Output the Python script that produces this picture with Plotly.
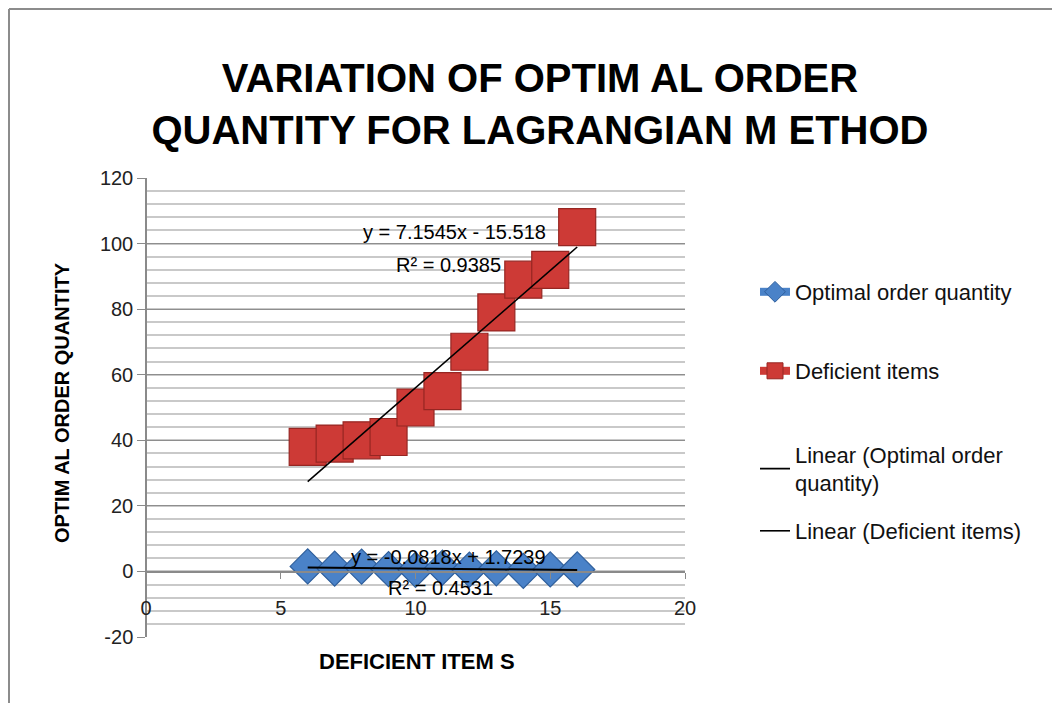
import numpy as np
import plotly.graph_objects as go

# ---- data ----
x_items = [6, 7, 8, 9, 10, 11, 12, 13, 14, 15, 16]
deficient_items = [38, 39, 40, 41, 50, 55, 67, 79, 89, 92, 105]
optimal_order_qty = [1.53, 0.85, 1.47, 0.69, 0.51, 1.14, 0.54, 0.96, 0.18, 0.60, 0.60]

y_ticks = [-20, 0, 20, 40, 60, 80, 100, 120]
y_tick_labels = ["-20", "0", "20", "40", "60", "80", "100", "120"]
x_ticks = [0, 5, 10, 15, 20]

title_text = "VARIATION OF OPTIM AL ORDER<br>QUANTITY FOR LAGRANGIAN M ETHOD"
x_title = "DEFICIENT ITEM S"
y_title = "OPTIM AL ORDER QUANTITY"

BLUE = "#4A82C8"
BLUE_EDGE = "#2F5F9C"
RED = "#CD3A36"
RED_EDGE = "#962622"
ARIAL = "Arial, Liberation Sans, sans-serif"

# page offset (body margin) and plot-area geometry in page pixels
OFF = 8
PAGE_W, PAGE_H = 1060, 703
W, H = PAGE_W - OFF, PAGE_H - OFF
PL, PR, PT, PB = 146, 685, 178, 637
pw, ph = PR - PL, PB - PT


def px_x(p):
    return (p - PL) / pw


def px_y(p):
    return (PB - p) / ph


# linear fits
xa = np.array(x_items, dtype=float)
fit_red = np.polyfit(xa, np.array(deficient_items, float), 1)
fit_blue = np.polyfit(xa, np.array(optimal_order_qty, float), 1)
xl = np.array([xa.min(), xa.max()])

fig = go.Figure()

fig.add_trace(go.Scatter(
    x=x_items, y=optimal_order_qty, mode="markers", showlegend=False,
    marker=dict(symbol="diamond", size=27, color=BLUE,
                line=dict(color=BLUE_EDGE, width=1.2))))
fig.add_trace(go.Scatter(
    x=x_items, y=deficient_items, mode="markers", showlegend=False,
    marker=dict(symbol="square", size=37, color=RED,
                line=dict(color=RED_EDGE, width=1.2))))
fig.add_trace(go.Scatter(
    x=xl, y=np.polyval(fit_blue, xl), mode="lines", showlegend=False,
    line=dict(color="black", width=2)))
fig.add_trace(go.Scatter(
    x=xl, y=np.polyval(fit_red, xl), mode="lines", showlegend=False,
    line=dict(color="black", width=1.6)))

# legend entries (separate legends to reproduce the spacing)
fig.add_trace(go.Scatter(
    x=[None], y=[None], mode="lines+markers", name="Optimal order quantity",
    legend="legend",
    line=dict(color=BLUE, width=8),
    marker=dict(symbol="diamond", size=16, color=BLUE, line=dict(color=BLUE_EDGE, width=1))))
fig.add_trace(go.Scatter(
    x=[None], y=[None], mode="lines+markers", name="Deficient items",
    legend="legend2",
    line=dict(color=RED, width=8),
    marker=dict(symbol="square", size=16, color=RED, line=dict(color=RED_EDGE, width=1))))
fig.add_trace(go.Scatter(
    x=[None], y=[None], mode="lines", name="Linear (Optimal order<br>quantity)",
    legend="legend3", line=dict(color="black", width=1.6)))
fig.add_trace(go.Scatter(
    x=[None], y=[None], mode="lines", name="Linear (Deficient items)",
    legend="legend4", line=dict(color="black", width=1.6)))

leg_font = dict(family=ARIAL, size=22, color="#111")
leg_x = px_x(755)


def leg(py):
    return dict(x=leg_x, y=px_y(py), xanchor="left", yanchor="middle",
                font=leg_font, bgcolor="rgba(0,0,0,0)", borderwidth=0)


fig.update_layout(
    width=W, height=H, autosize=False,
    margin=dict(l=PL - OFF, r=PAGE_W - PR, t=PT - OFF, b=PAGE_H - PB),
    paper_bgcolor="white", plot_bgcolor="white",
    title=dict(text=title_text, x=(540 - OFF) / W, xref="container", xanchor="center",
               y=1 - (92 - OFF) / H, yref="container", yanchor="middle",
               font=dict(family=ARIAL, size=40, color="black", weight="bold")),
    legend=leg(292), legend2=leg(371), legend3=leg(469), legend4=leg(531),
    xaxis=dict(range=[0, 20], tickvals=x_ticks, showgrid=False, zeroline=False,
               anchor="free", position=px_y(572), automargin=False,
               showline=True, linecolor="#8a8a8a", linewidth=1.5,
               ticks="outside", ticklen=6, tickcolor="#8a8a8a",
               ticklabelstandoff=12,
               tickfont=dict(family=ARIAL, size=20, color="#222")),
    yaxis=dict(range=[-20, 120], tickvals=y_ticks, ticktext=y_tick_labels,
               zeroline=False,
               anchor="free", position=0, automargin=False,
               showline=True, linecolor="#8a8a8a", linewidth=1.5,
               ticks="outside", ticklen=8, tickcolor="#8a8a8a",
               showgrid=True, gridcolor="#8e8e8e", gridwidth=1.3,
               minor=dict(dtick=4, tick0=-20, showgrid=True,
                          gridcolor="#c9c9c9", gridwidth=1.6),
               tickfont=dict(family=ARIAL, size=20, color="#222")),
)

ann_font = dict(family=ARIAL, size=20, color="black")
fig.add_annotation(x=px_x(548), y=px_y(232), xref="paper", yref="paper",
                   xanchor="right", yanchor="middle", showarrow=False,
                   text="y = %.4fx - %.3f" % (fit_red[0], -fit_red[1]), font=ann_font)
fig.add_annotation(x=px_x(503), y=px_y(265), xref="paper", yref="paper",
                   xanchor="right", yanchor="middle", showarrow=False,
                   text="R² = 0.9385", font=ann_font)
fig.add_annotation(x=px_x(548), y=px_y(557), xref="paper", yref="paper",
                   xanchor="right", yanchor="middle", showarrow=False,
                   text="y = -0.0818x + 1.7239", font=ann_font)
fig.add_annotation(x=px_x(495), y=px_y(588), xref="paper", yref="paper",
                   xanchor="right", yanchor="middle", showarrow=False,
                   text="R² = 0.4531", font=ann_font)

fig.add_annotation(x=px_x(417), y=px_y(661), xref="paper", yref="paper",
                   xanchor="center", yanchor="middle", showarrow=False,
                   text=x_title,
                   font=dict(family=ARIAL, size=22, color="black", weight="bold"))
fig.add_annotation(x=px_x(62), y=px_y(403), xref="paper", yref="paper",
                   xanchor="center", yanchor="middle", showarrow=False,
                   textangle=-90, text=y_title,
                   font=dict(family=ARIAL, size=20, color="black", weight="bold"))

# outer chart frame (left and top edges visible)
frame = dict(color="#8c8c8c", width=2)
fig.add_shape(type="line", xref="paper", yref="paper",
              x0=px_x(OFF + 1), x1=px_x(OFF + 1), y0=px_y(OFF + 1), y1=px_y(PAGE_H),
              line=frame)
fig.add_shape(type="line", xref="paper", yref="paper",
              x0=px_x(OFF + 1), x1=px_x(PAGE_W), y0=px_y(OFF + 1), y1=px_y(OFF + 1),
              line=frame)

fig.write_html("out.html")
